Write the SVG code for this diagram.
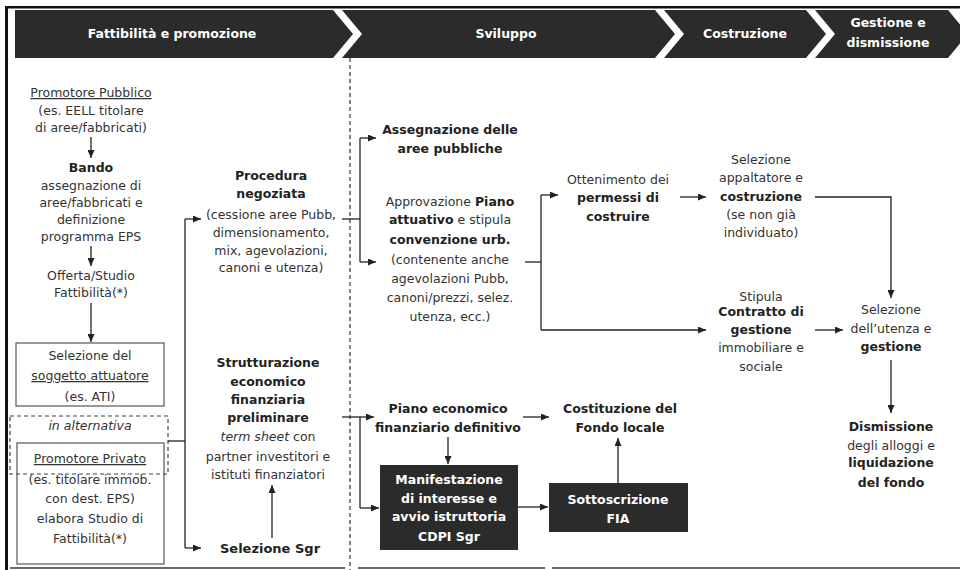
<svg xmlns="http://www.w3.org/2000/svg" width="960" height="570" viewBox="0 0 960 570">
<defs>
<marker id="ah" markerUnits="userSpaceOnUse" markerWidth="8" markerHeight="7" refX="8" refY="3.5" orient="auto">
<path d="M0,0 L8,3.5 L0,7 z" fill="#222"/>
</marker>
<style>
text{font-family:"DejaVu Sans","Verdana",sans-serif;font-size:12.5px;text-anchor:middle;fill:#333}
.b,tspan.b{font-weight:bold;fill:#222}
.w{font-weight:bold;fill:#fff}
.i{font-style:italic}
.u{text-decoration:underline}
.seg{fill:#2b2b2b}
.box{fill:#fff;stroke:#555;stroke-width:1.2}
.dk{fill:#2b2b2b}
.c line,.c polyline{stroke:#222;stroke-width:1.3;fill:none}
.a{marker-end:url(#ah)}
</style>
</defs>
<rect width="960" height="570" fill="#fff"/>
<g id="frame">
<rect x="5" y="6" width="955" height="2.5" fill="#111"/>
<rect x="5" y="6" width="3" height="564" fill="#111"/>
<line x1="10" y1="568" x2="345" y2="568" stroke="#333" stroke-width="1.5"/>
<line x1="358" y1="568" x2="545" y2="568" stroke="#333" stroke-width="1.5"/>
<line x1="552" y1="568" x2="960" y2="568" stroke="#333" stroke-width="1.5"/>
<line x1="350" y1="58" x2="350" y2="570" stroke="#333" stroke-width="1.2" stroke-dasharray="4,3"/>
</g>
<g id="header">
<polygon class="seg" points="15,10 333,10 353,34 333,58 15,58"/>
<polygon class="seg" points="342,10 655,10 675,34 655,58 342,58 362,34"/>
<polygon class="seg" points="664,10 806,10 826,34 806,58 664,58 684,34"/>
<polygon class="seg" points="815,10 948,10 968,34 948,58 815,58 835,34"/>
<text class="w" x="172" y="38">Fattibilità e promozione</text>
<text class="w" x="506" y="38">Sviluppo</text>
<text class="w" x="745" y="38">Costruzione</text>
<text class="w" x="888" y="27">Gestione e</text>
<text class="w" x="888" y="47">dismissione</text>
</g>
<g id="promotore-pubblico">
<text x="91" y="97" class="u">Promotore Pubblico</text>
<text x="91" y="115">(es. EELL titolare</text>
<text x="91" y="132">di aree/fabbricati)</text>
</g>
<g id="bando">
<text x="91" y="172" class="b">Bando</text>
<text x="91" y="190">assegnazione di</text>
<text x="91" y="207">aree/fabbricati e</text>
<text x="91" y="224">definizione</text>
<text x="91" y="241">programma EPS</text>
</g>
<g id="offerta">
<text x="91" y="280">Offerta/Studio</text>
<text x="91" y="297">Fattibilità(*)</text>
</g>
<g id="selezione-soggetto">
<rect class="box" x="16" y="343" width="148" height="63"/>
<text x="90" y="360">Selezione del</text>
<text x="90" y="380" class="u">soggetto attuatore</text>
<text x="90" y="401">(es. ATI)</text>
</g>
<g id="promotore-privato">
<rect class="box" x="17" y="443" width="147" height="121"/>
<text x="90" y="463" class="u">Promotore Privato</text>
<text x="90" y="484">(es. titolare immob.</text>
<text x="90" y="503">con dest. EPS)</text>
<text x="90" y="523">elabora Studio di</text>
<text x="90" y="543">Fattibilità(*)</text>
</g>
<g id="alternativa">
<rect x="10" y="416" width="158" height="58" fill="none" stroke="#444" stroke-width="1.2" stroke-dasharray="4,3"/>
<text x="90" y="430" class="i">in alternativa</text>
</g>
<g id="procedura">
<text x="271" y="180" class="b">Procedura</text>
<text x="271" y="198" class="b">negoziata</text>
<text x="271" y="219">(cessione aree Pubb,</text>
<text x="271" y="237">dimensionamento,</text>
<text x="271" y="255">mix, agevolazioni,</text>
<text x="271" y="272">canoni e utenza)</text>
</g>
<g id="strutturazione">
<text x="268" y="367" class="b">Strutturazione</text>
<text x="268" y="386" class="b">economico</text>
<text x="268" y="404" class="b">finanziaria</text>
<text x="268" y="422" class="b">preliminare</text>
<text x="268" y="441"><tspan class="i">term sheet</tspan> con</text>
<text x="268" y="461">partner investitori e</text>
<text x="268" y="479">istituti finanziatori</text>
</g>
<g id="selezione-sgr">
<text x="270" y="553" class="b" style="font-size:13px">Selezione Sgr</text>
</g>
<g id="assegnazione">
<text x="450" y="134" class="b">Assegnazione delle</text>
<text x="450" y="153" class="b">aree pubbliche</text>
</g>
<g id="approvazione">
<text x="450" y="206">Approvazione <tspan class="b">Piano</tspan></text>
<text x="450" y="224"><tspan class="b">attuativo</tspan> e stipula</text>
<text x="450" y="244" class="b">convenzione urb.</text>
<text x="450" y="264">(contenente anche</text>
<text x="450" y="283">agevolazioni Pubb,</text>
<text x="450" y="302">canoni/prezzi, selez.</text>
<text x="450" y="321">utenza, ecc.)</text>
</g>
<g id="permessi">
<text x="618" y="184">Ottenimento dei</text>
<text x="618" y="202" class="b">permessi di</text>
<text x="618" y="221" class="b">costruire</text>
</g>
<g id="appaltatore">
<text x="761" y="164">Selezione</text>
<text x="761" y="182">appaltatore e</text>
<text x="761" y="201" class="b">costruzione</text>
<text x="761" y="219">(se non già</text>
<text x="761" y="237">individuato)</text>
</g>
<g id="contratto">
<text x="761" y="301">Stipula</text>
<text x="761" y="316" class="b">Contratto di</text>
<text x="761" y="334" class="b">gestione</text>
<text x="761" y="352">immobiliare e</text>
<text x="761" y="371">sociale</text>
</g>
<g id="utenza">
<text x="891" y="314">Selezione</text>
<text x="891" y="333">dell’utenza e</text>
<text x="891" y="351" class="b">gestione</text>
</g>
<g id="dismissione">
<text x="891" y="431" class="b">Dismissione</text>
<text x="891" y="450">degli alloggi e</text>
<text x="891" y="467" class="b">liquidazione</text>
<text x="891" y="487" class="b">del fondo</text>
</g>
<g id="piano-economico">
<text x="448" y="413" class="b">Piano economico</text>
<text x="448" y="432" class="b">finanziario definitivo</text>
</g>
<g id="costituzione">
<text x="620" y="413" class="b">Costituzione del</text>
<text x="620" y="432" class="b">Fondo locale</text>
</g>
<g id="manifestazione">
<rect class="dk" x="380" y="465" width="138" height="85"/>
<text x="449" y="484" class="w">Manifestazione</text>
<text x="449" y="503" class="w">di interesse e</text>
<text x="449" y="521" class="w">avvio istruttoria</text>
<text x="449" y="541" class="w">CDPI Sgr</text>
</g>
<g id="sottoscrizione">
<rect class="dk" x="549" y="483" width="139" height="49"/>
<text x="618" y="504" class="w">Sottoscrizione</text>
<text x="618" y="523" class="w">FIA</text>
</g>
<g id="connectors" class="c">
<line class="a" x1="91" y1="137" x2="91" y2="158"/>
<line class="a" x1="91" y1="246" x2="91" y2="266"/>
<line class="a" x1="91" y1="303" x2="91" y2="342"/>
<line x1="168" y1="441" x2="185" y2="441"/>
<line x1="185" y1="219" x2="185" y2="548"/>
<line class="a" x1="185" y1="219" x2="201" y2="219"/>
<line class="a" x1="185" y1="548" x2="201" y2="548"/>
<line x1="342" y1="219" x2="360" y2="219"/>
<line x1="360" y1="138" x2="360" y2="262"/>
<line class="a" x1="360" y1="138" x2="376" y2="138"/>
<line class="a" x1="360" y1="262" x2="376" y2="262"/>
<line class="a" x1="272" y1="538" x2="272" y2="485"/>
<line class="a" x1="342" y1="417" x2="374" y2="417"/>
<line x1="360" y1="417" x2="360" y2="508"/>
<line class="a" x1="360" y1="508" x2="379" y2="508"/>
<line x1="525" y1="262" x2="541" y2="262"/>
<line x1="541" y1="195" x2="541" y2="330"/>
<line class="a" x1="541" y1="195" x2="558" y2="195"/>
<line class="a" x1="541" y1="330" x2="706" y2="330"/>
<line class="a" x1="680" y1="197" x2="706" y2="197"/>
<polyline class="a" points="815,197 891,197 891,298"/>
<line class="a" x1="815" y1="330" x2="843" y2="330"/>
<line class="a" x1="891" y1="360" x2="891" y2="413"/>
<line class="a" x1="523" y1="417" x2="549" y2="417"/>
<line class="a" x1="448" y1="437" x2="448" y2="464"/>
<line class="a" x1="518" y1="507" x2="548" y2="507"/>
<line class="a" x1="618" y1="483" x2="618" y2="438"/>
</g>
</svg>
